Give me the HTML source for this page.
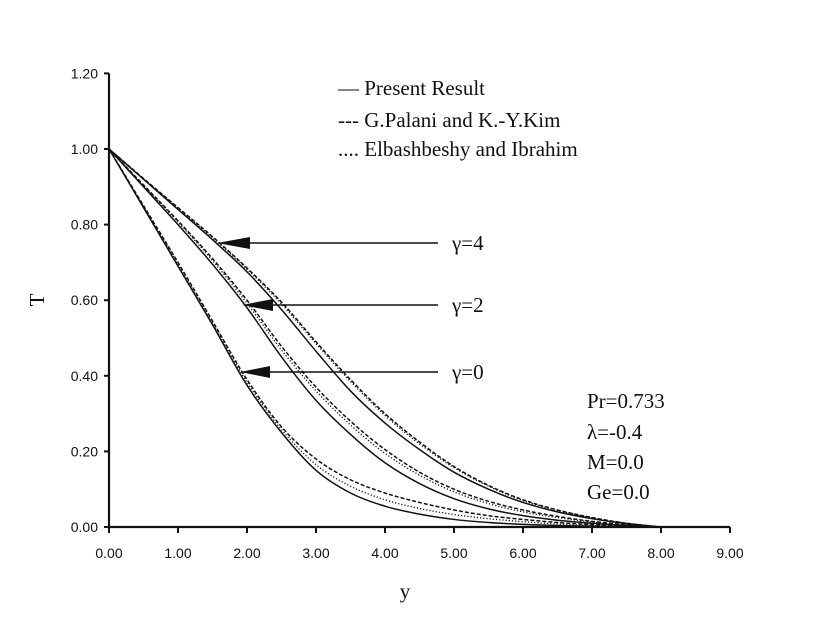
<!DOCTYPE html>
<html><head><meta charset="utf-8"><style>
html,body{margin:0;padding:0;background:#fff;}
svg text{fill:#111;}
.tick{font-family:"Liberation Sans",sans-serif;font-size:14px;}
.serif{font-family:"Liberation Serif",serif;font-size:21px;}
</style></head><body>
<svg id="chart" width="815" height="630" viewBox="0 0 815 630" xmlns="http://www.w3.org/2000/svg">
<g id="axes"></g>
<g id="series"></g>
<g>
<text class="serif" x="338" y="95">— Present Result</text>
<text class="serif" x="338" y="127">--- G.Palani and K.-Y.Kim</text>
<text class="serif" x="338" y="156">.... Elbashbeshy and Ibrahim</text>
</g>
<g>
<line x1="248" y1="243" x2="438" y2="243" stroke="#111" stroke-width="1.6"/>
<polygon points="217,243 250,237 250,249" fill="#111"/>
<text class="serif" x="452" y="250">γ=4</text>
<line x1="272" y1="305" x2="438" y2="305" stroke="#111" stroke-width="1.6"/>
<polygon points="242,305 273,299 273,311" fill="#111"/>
<text class="serif" x="452" y="312">γ=2</text>
<line x1="270" y1="372" x2="438" y2="372" stroke="#111" stroke-width="1.6"/>
<polygon points="240,372 270,366 270,378" fill="#111"/>
<text class="serif" x="452" y="379">γ=0</text>
<text class="serif" x="587" y="408">Pr=0.733</text>
<text class="serif" x="587" y="439">λ=-0.4</text>
<text class="serif" x="587" y="469">M=0.0</text>
<text class="serif" x="587" y="499">Ge=0.0</text>
</g>
<text class="serif" x="405" y="598" text-anchor="middle">y</text>
<text class="serif" x="44" y="300" text-anchor="middle" transform="rotate(-90 44 300)">T</text>
</svg>
<script>
const xTicks=[0,1,2,3,4,5,6,7,8,9];
const yTicks=[0,0.2,0.4,0.6,0.8,1.0,1.2];
const yGrid=[0,0.5,1,1.5,2,2.5,3,3.5,4,4.5,5,5.5,6,6.5,7,7.5,8];
const g0Present=[1,0.845,0.69,0.535,0.375,0.25,0.15,0.09,0.055,0.034,0.02,0.012,0.007,0.004,0.002,0.001,0];
const g0Palani=[1,0.85,0.70,0.545,0.39,0.265,0.18,0.125,0.09,0.065,0.045,0.03,0.02,0.012,0.006,0.002,0];
const g0Elbash=[1,0.848,0.695,0.54,0.383,0.258,0.165,0.108,0.072,0.049,0.033,0.022,0.014,0.008,0.004,0.001,0];
const g2Present=[1,0.9,0.80,0.695,0.58,0.45,0.335,0.245,0.17,0.115,0.075,0.048,0.03,0.018,0.01,0.004,0];
const g2Palani=[1,0.905,0.81,0.71,0.60,0.478,0.37,0.28,0.205,0.145,0.1,0.068,0.045,0.028,0.015,0.006,0];
const g2Elbash=[1,0.903,0.807,0.705,0.592,0.468,0.36,0.27,0.195,0.137,0.093,0.062,0.04,0.025,0.013,0.005,0];
const g4Present=[1,0.92,0.84,0.76,0.675,0.575,0.465,0.36,0.275,0.205,0.145,0.1,0.065,0.04,0.022,0.009,0];
const g4Palani=[1,0.922,0.845,0.768,0.685,0.595,0.49,0.39,0.30,0.225,0.16,0.11,0.072,0.045,0.025,0.01,0];
const g4Elbash=[1,0.921,0.843,0.765,0.682,0.59,0.485,0.385,0.295,0.22,0.157,0.108,0.07,0.044,0.024,0.01,0];
const X0=109,XS=69,Y0=527,YS=378;
function sx(v){return X0+v*XS;}
function sy(v){return Y0-v*YS;}
const NS="http://www.w3.org/2000/svg";
const axes=document.getElementById('axes');
function mk(tag,attrs,parent){const e=document.createElementNS(NS,tag);for(const k in attrs)e.setAttribute(k,attrs[k]);parent.appendChild(e);return e;}
const xl=mk('line',{x1:sx(0),y1:sy(0),x2:sx(9),y2:sy(0),stroke:'#111','stroke-width':2.2},axes);


const yl=mk('line',{x1:sx(0),y1:sy(0),x2:sx(0),y2:sy(1.2),stroke:'#111','stroke-width':2.2},axes);


xTicks.forEach(t=>{
 const l=mk('line',{x1:sx(t),y1:sy(0),x2:sx(t),y2:sy(0)+6,stroke:'#111','stroke-width':2},axes);
 
 
 const tx=mk('text',{x:sx(t),y:sy(0)+31,'text-anchor':'middle',class:'tick'},axes);
 tx.textContent=t.toFixed(2);
 
 
});
yTicks.forEach(t=>{
 const l=mk('line',{x1:sx(0)-5,y1:sy(t),x2:sx(0),y2:sy(t),stroke:'#111','stroke-width':2},axes);
 
 
 const tx=mk('text',{x:sx(0)-11,y:sy(t)+5,'text-anchor':'end',class:'tick'},axes);
 tx.textContent=t.toFixed(2);
 
 
});
function pathD(vals){
 const p=vals.map((v,i)=>[sx(yGrid[i]),sy(v)]);
 let d='M'+p[0][0]+','+p[0][1];
 for(let i=0;i<p.length-1;i++){
  const a=p[Math.max(0,i-1)],b=p[i],c=p[i+1],e=p[Math.min(p.length-1,i+2)];
  const c1=[b[0]+(c[0]-a[0])/6,b[1]+(c[1]-a[1])/6],c2=[c[0]-(e[0]-b[0])/6,c[1]-(e[1]-b[1])/6];
  d+=' C'+c1[0]+','+c1[1]+' '+c2[0]+','+c2[1]+' '+c[0]+','+c[1];
 }
 return d;
}
const ser=document.getElementById('series');
const all=[[g0Present,'solid','curve-gamma0-present'],[g0Palani,'dash','curve-gamma0-palani'],[g0Elbash,'dot','curve-gamma0-elbashbeshy'],
[g2Present,'solid','curve-gamma2-present'],[g2Palani,'dash','curve-gamma2-palani'],[g2Elbash,'dot','curve-gamma2-elbashbeshy'],
[g4Present,'solid','curve-gamma4-present'],[g4Palani,'dash','curve-gamma4-palani'],[g4Elbash,'dot','curve-gamma4-elbashbeshy']];
all.forEach(s=>{
 const a={d:pathD(s[0]),fill:'none',stroke:'#111','stroke-width':1.5};
 if(s[1]==='dash')a['stroke-dasharray']='4 2';
 if(s[1]==='dot'){a['stroke-dasharray']='1.2 2';a['stroke-width']=1.3;}
 const p=mk('path',a,ser);
 
 
});
</script>
</body></html>
